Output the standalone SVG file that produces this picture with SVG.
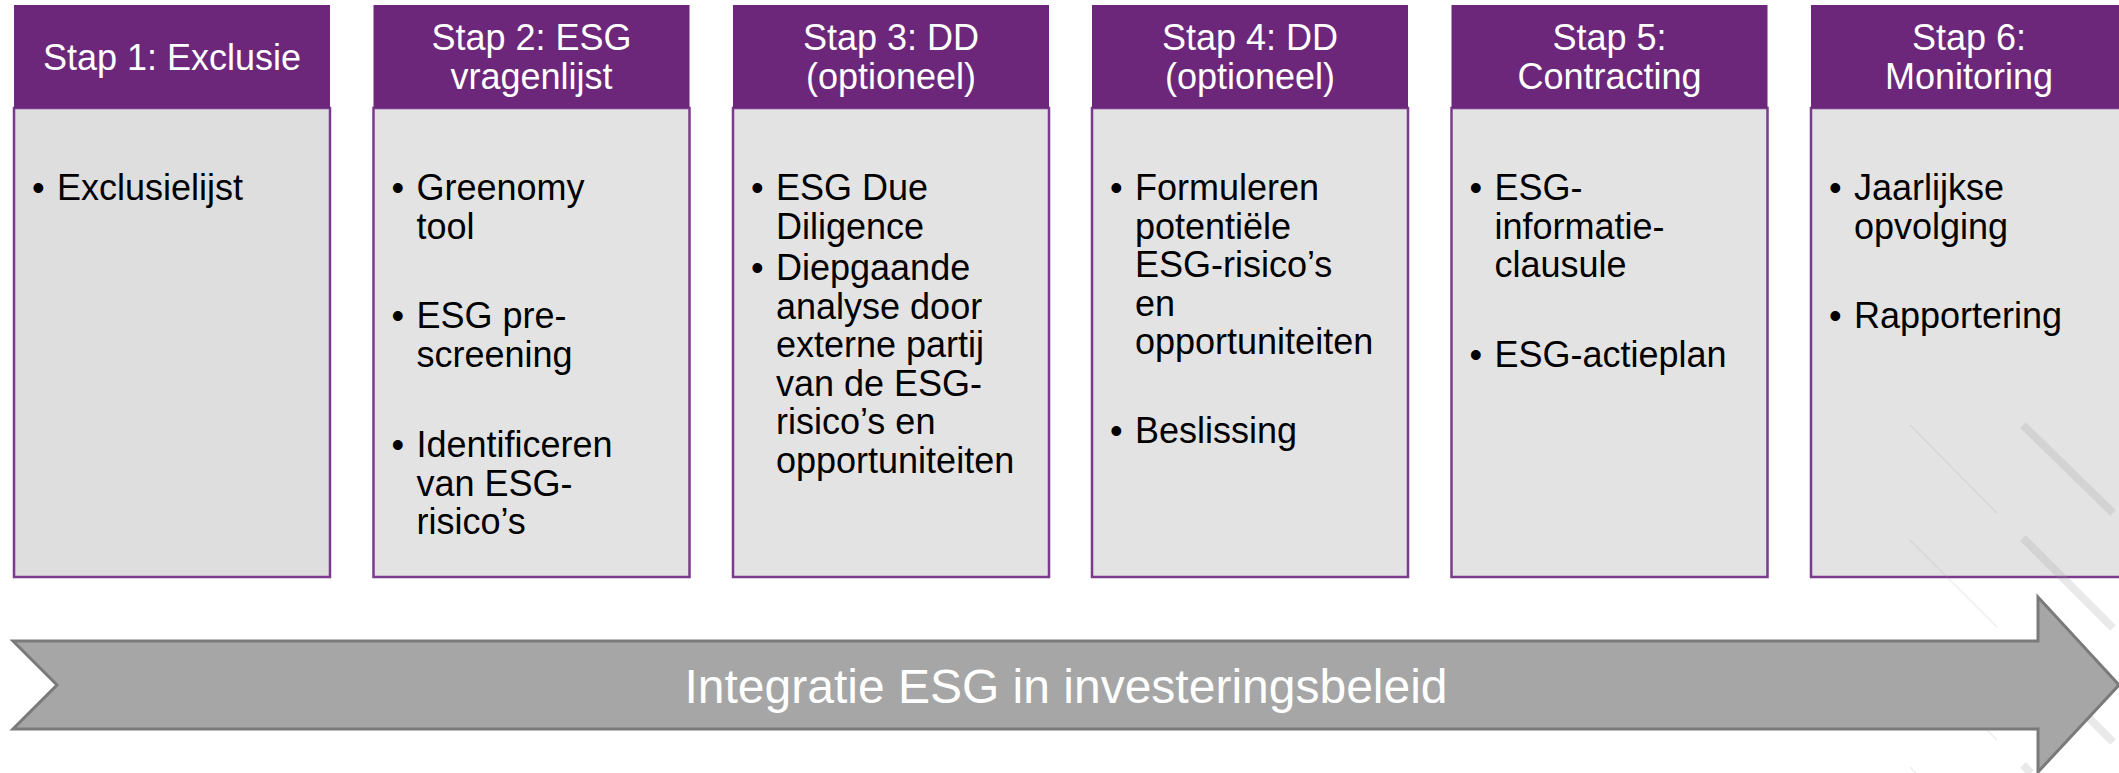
<svg xmlns="http://www.w3.org/2000/svg" width="2119" height="773" viewBox="0 0 2119 773">
<style>
.hdr{fill:#6c277b}
.body{fill:#e3e3e3;stroke:#7b3b8d;stroke-width:2.5}
.ht{font-family:"Liberation Sans",Arial,sans-serif;font-size:36px;fill:#ffffff;text-anchor:middle}
.bt{font-family:"Liberation Sans",Arial,sans-serif;font-size:36px;fill:#000000}
.thin{stroke:#9a9a9a;stroke-opacity:0.18;stroke-width:1.5}
.thick{stroke:#9a9a9a;stroke-opacity:0.22;stroke-width:8}
.at{font-family:"Liberation Sans",Arial,sans-serif;font-size:48px;fill:#ffffff;text-anchor:middle}
</style>
<rect width="2119" height="773" fill="#ffffff"/>
<g id="stap1">
<rect class="body" x="14" y="108" width="316" height="469" style="fill:#dedede"/>
<rect class="hdr" x="14" y="5" width="316" height="103"/>
<text class="ht" x="172" y="70">Stap 1: Exclusie</text>
<text class="bt"><tspan x="32" y="200">•</tspan><tspan x="57" y="200">Exclusielijst</tspan></text>
</g>
<g id="stap2">
<rect class="body" x="373.5" y="108" width="316" height="469"/>
<rect class="hdr" x="373.5" y="5" width="316" height="103"/>
<text class="ht"><tspan x="531.5" y="50">Stap 2: ESG</tspan><tspan x="531.5" y="88.5">vragenlijst</tspan></text>
<text class="bt"><tspan x="391.5" y="200">•</tspan><tspan x="416.5" y="200">Greenomy</tspan><tspan x="416.5" y="238.5">tool</tspan><tspan x="391.5" y="328">•</tspan><tspan x="416.5" y="328">ESG pre-</tspan><tspan x="416.5" y="366.5">screening</tspan><tspan x="391.5" y="457">•</tspan><tspan x="416.5" y="457">Identificeren</tspan><tspan x="416.5" y="495.5">van ESG-</tspan><tspan x="416.5" y="534">risico’s</tspan></text>
</g>
<g id="stap3">
<rect class="body" x="733" y="108" width="316" height="469"/>
<rect class="hdr" x="733" y="5" width="316" height="103"/>
<text class="ht"><tspan x="891" y="50">Stap 3: DD</tspan><tspan x="891" y="88.5">(optioneel)</tspan></text>
<text class="bt"><tspan x="751" y="200">•</tspan><tspan x="776" y="200">ESG Due</tspan><tspan x="776" y="238.5">Diligence</tspan><tspan x="751" y="280">•</tspan><tspan x="776" y="280">Diepgaande</tspan><tspan x="776" y="318.5">analyse door</tspan><tspan x="776" y="357">externe partij</tspan><tspan x="776" y="395.5">van de ESG-</tspan><tspan x="776" y="434">risico’s en</tspan><tspan x="776" y="472.5">opportuniteiten</tspan></text>
</g>
<g id="stap4">
<rect class="body" x="1092" y="108" width="316" height="469"/>
<rect class="hdr" x="1092" y="5" width="316" height="103"/>
<text class="ht"><tspan x="1250" y="50">Stap 4: DD</tspan><tspan x="1250" y="88.5">(optioneel)</tspan></text>
<text class="bt"><tspan x="1110" y="200">•</tspan><tspan x="1135" y="200">Formuleren</tspan><tspan x="1135" y="238.5">potentiële</tspan><tspan x="1135" y="277">ESG-risico’s</tspan><tspan x="1135" y="315.5">en</tspan><tspan x="1135" y="354">opportuniteiten</tspan><tspan x="1110" y="443">•</tspan><tspan x="1135" y="443">Beslissing</tspan></text>
</g>
<g id="stap5">
<rect class="body" x="1451.5" y="108" width="316" height="469"/>
<rect class="hdr" x="1451.5" y="5" width="316" height="103"/>
<text class="ht"><tspan x="1609.5" y="50">Stap 5:</tspan><tspan x="1609.5" y="88.5">Contracting</tspan></text>
<text class="bt"><tspan x="1469.5" y="200">•</tspan><tspan x="1494.5" y="200">ESG-</tspan><tspan x="1494.5" y="238.5">informatie-</tspan><tspan x="1494.5" y="277">clausule</tspan><tspan x="1469.5" y="367">•</tspan><tspan x="1494.5" y="367">ESG-actieplan</tspan></text>
</g>
<g id="stap6">
<rect class="body" x="1811" y="108" width="316" height="469"/>
<rect class="hdr" x="1811" y="5" width="316" height="103"/>
<text class="ht"><tspan x="1969" y="50">Stap 6:</tspan><tspan x="1969" y="88.5">Monitoring</tspan></text>
<text class="bt"><tspan x="1829" y="200">•</tspan><tspan x="1854" y="200">Jaarlijkse</tspan><tspan x="1854" y="238.5">opvolging</tspan><tspan x="1829" y="328">•</tspan><tspan x="1854" y="328">Rapportering</tspan></text>
</g>
<g id="decor">
<line class="thin" x1="1910" y1="425" x2="1997" y2="513"/>
<line class="thin" x1="1910" y1="540" x2="1997" y2="627"/>
<line class="thin" x1="1910" y1="653" x2="1997" y2="740"/>
<line class="thin" x1="1910" y1="767" x2="1916" y2="773"/>
<line class="thick" x1="2023" y1="425" x2="2113" y2="513"/>
<line class="thick" x1="2023" y1="538" x2="2113" y2="628"/>
<line class="thick" x1="2023" y1="652" x2="2113" y2="742"/>
<line class="thick" x1="2023" y1="765" x2="2031" y2="773"/>
</g>
<g id="connectors">
<g id="arrow">
<path d="M13,641 L2038,641 L2038,597 L2119,685 L2038,772 L2038,729 L13,729 L57,685 Z" fill="#a6a6a6" stroke="#7a7a7a" stroke-width="3"/>
<text class="at" x="1066" y="703">Integratie ESG in investeringsbeleid</text>
</g>
</g>
</svg>
